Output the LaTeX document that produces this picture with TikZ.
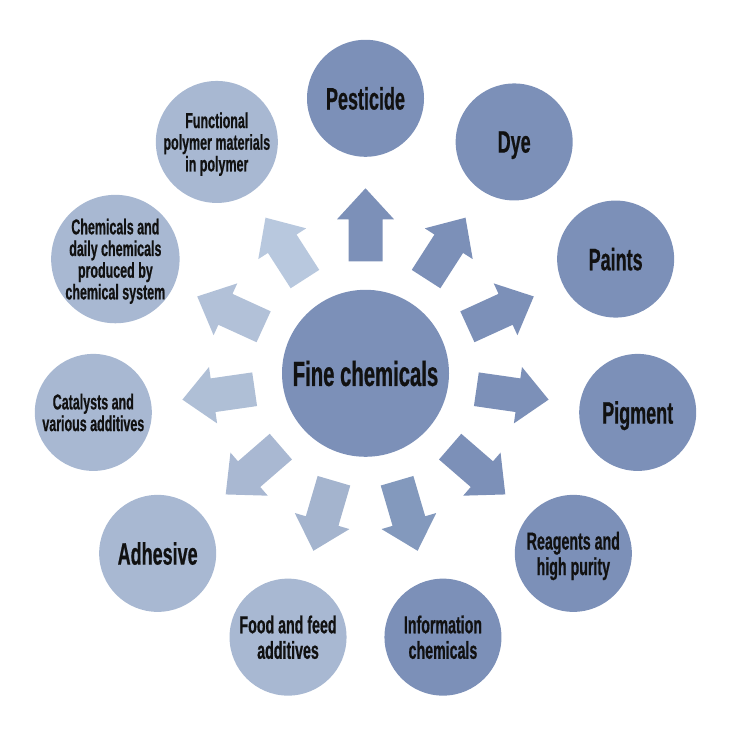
\documentclass[tikz,border=0pt]{standalone}
\usepackage{fontspec}
\newfontfamily\labfont[FakeStretch=0.58,FakeBold=0.6]{Liberation Sans}
\definecolor{dk}{HTML}{7C90B8}
\definecolor{lt}{HTML}{A8B8D2}
\definecolor{a5}{HTML}{8399BD}
\definecolor{a6}{HTML}{A4B4CE}
\definecolor{a7}{HTML}{A9B8D2}
\definecolor{a8}{HTML}{AFBFD6}
\definecolor{a9}{HTML}{B2C1D8}
\definecolor{a10}{HTML}{B8C8DE}
\definecolor{txt}{HTML}{111111}
\begin{document}
\begin{tikzpicture}[x=1pt,y=1pt,
  circ/.style={circle, inner sep=0pt, minimum size=117pt, text depth=0pt,
    align=center, text=txt},
  big/.style={font=\labfont\bfseries\fontsize{31}{32}\selectfont},
  mid/.style={font=\labfont\bfseries\fontsize{24.5}{25.5}\selectfont},
  sml/.style={font=\labfont\bfseries\fontsize{21.5}{21.7}\selectfont}]
\useasboundingbox (0,0) rectangle (746,735);
\coordinate (C) at (365.5,361.7);
% arrows
\foreach \k/\col in {0/dk,1/dk,2/dk,3/dk,4/dk,5/a5,6/a6,7/a7,8/a8,9/a9,10/a10}{
  \begin{scope}[shift={(C)}, rotate={90-\k*32.72727}]
    \fill[\col] (112,-17) -- (154,-17) -- (154,-28.5) -- (185,0) -- (154,28.5) -- (154,17) -- (112,17) -- cycle;
  \end{scope}
}
% centre
\node[circ, fill=dk, minimum size=167pt, font=\labfont\bfseries\fontsize{35}{36}\selectfont] (fc) at (C) {Fine chemicals};
% outer circles
\node[circ, big, fill=dk] (pest) at ([shift={(90:275)}]C) {Pesticide};
\node[circ, big, fill=dk] (dye)  at ([shift={(57.2727:275)}]C) {Dye};
\node[circ, big, fill=dk] (pai)  at ([shift={(24.5455:275)}]C) {Paints};
\node[circ, big, fill=dk] (pig)  at ([shift={(-8.1818:275)}]C) {Pigment};
\node[circ, mid, fill=dk] (rea)  at ([shift={(-40.9091:275)}]C) {Reagents and\\high purity};
\node[circ, mid, fill=dk] (inf)  at ([shift={(-73.6364:275)}]C) {Information\\chemicals};
\node[circ, mid, fill=lt] (food) at ([shift={(-106.3636:275)}]C) {Food and feed\\additives};
\node[circ, big, fill=lt] (adh)  at ([shift={(-139.0909:275)}]C) {Adhesive};
\node[circ, sml, fill=lt] (cat)  at ([shift={(-171.8182:275)}]C) {Catalysts and\\various additives};
\node[circ, sml, fill=lt] (dai)  at ([shift={(155.4545:275)}]C) {Chemicals and\\daily chemicals\\produced by\\chemical system};
\node[circ, sml, fill=lt] (fun)  at ([shift={(122.7273:275)}]C) {Functional\\polymer materials\\in polymer};
\end{tikzpicture}
\end{document}
